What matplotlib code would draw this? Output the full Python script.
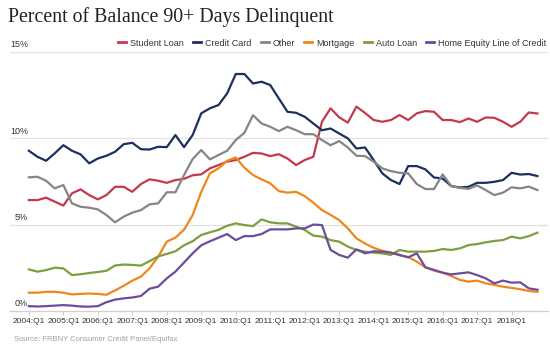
import matplotlib
matplotlib.use("Agg")
import matplotlib.pyplot as plt
from matplotlib.lines import Line2D

# Quarterly observations, 2004:Q1 through 2018:Q4
quarters = [f"{y}:Q{q}" for y in range(2004, 2019) for q in range(1, 5)]

student_loan = [6.42, 6.42, 6.56, 6.33, 6.10, 6.81, 7.04, 6.71, 6.46, 6.71,
                7.19, 7.19, 6.90, 7.35, 7.62, 7.54, 7.42, 7.58, 7.65, 7.86,
                7.91, 8.26, 8.45, 8.65, 8.74, 8.93, 9.16, 9.12, 8.97, 9.08,
                8.83, 8.45, 8.74, 8.93, 10.96, 11.74, 11.22, 10.91, 11.84, 11.47,
                11.06, 10.96, 11.06, 11.35, 11.06, 11.45, 11.58, 11.54, 11.06, 11.06,
                10.94, 11.15, 10.96, 11.21, 11.19, 10.96, 10.67, 10.96, 11.50, 11.44]

credit_card = [9.28, 8.93, 8.70, 9.13, 9.60, 9.28, 9.07, 8.55, 8.83, 8.99,
               9.22, 9.66, 9.74, 9.37, 9.35, 9.51, 9.49, 10.19, 9.49, 10.19,
               11.45, 11.74, 11.93, 12.60, 13.73, 13.73, 13.18, 13.28, 13.09, 12.31,
               11.54, 11.48, 11.25, 10.86, 10.47, 10.57, 10.28, 10.00, 9.41, 9.47,
               8.74, 7.97, 7.58, 7.35, 8.39, 8.39, 8.20, 7.73, 7.67, 7.23,
               7.15, 7.19, 7.42, 7.42, 7.48, 7.58, 8.00, 7.90, 7.93, 7.81]

other = [7.74, 7.77, 7.54, 7.10, 7.29, 6.23, 6.03, 5.98, 5.88, 5.55,
         5.13, 5.46, 5.69, 5.84, 6.17, 6.23, 6.87, 6.87, 7.87, 8.80,
         9.32, 8.78, 9.03, 9.28, 9.90, 10.32, 11.34, 10.86, 10.67, 10.42,
         10.67, 10.47, 10.24, 10.24, 9.90, 9.60, 9.84, 9.47, 8.99, 8.97,
         8.65, 8.26, 8.10, 8.00, 7.97, 7.35, 7.06, 7.06, 7.91, 7.23,
         7.13, 7.07, 7.27, 7.00, 6.71, 6.85, 7.16, 7.10, 7.20, 7.00]

mortgage = [1.05, 1.05, 1.10, 1.10, 1.05, 0.95, 0.98, 1.00, 0.98, 0.93,
            1.18, 1.45, 1.75, 1.98, 2.46, 3.14, 4.01, 4.24, 4.70, 5.55,
            6.90, 7.97, 8.26, 8.70, 8.89, 8.30, 7.87, 7.62, 7.39, 6.94,
            6.85, 6.90, 6.65, 6.27, 5.84, 5.56, 5.26, 4.78, 4.20, 3.90,
            3.65, 3.48, 3.38, 3.22, 3.12, 2.85, 2.52, 2.33, 2.21, 2.02,
            1.79, 1.69, 1.75, 1.59, 1.50, 1.40, 1.33, 1.25, 1.15, 1.10]

auto_loan = [2.40, 2.27, 2.36, 2.50, 2.46, 2.07, 2.12, 2.19, 2.25, 2.32,
             2.63, 2.68, 2.66, 2.62, 2.88, 3.15, 3.30, 3.45, 3.80, 4.03,
             4.40, 4.55, 4.69, 4.93, 5.07, 4.97, 4.91, 5.30, 5.13, 5.07,
             5.07, 4.88, 4.69, 4.36, 4.30, 4.10, 4.01, 3.72, 3.53, 3.43,
             3.37, 3.33, 3.24, 3.53, 3.43, 3.43, 3.43, 3.47, 3.58, 3.53,
             3.62, 3.81, 3.87, 3.97, 4.05, 4.10, 4.30, 4.20, 4.33, 4.53]

heloc = [0.27, 0.25, 0.27, 0.30, 0.33, 0.30, 0.25, 0.24, 0.27, 0.50,
         0.65, 0.72, 0.77, 0.86, 1.28, 1.40, 1.88, 2.27, 2.80, 3.33,
         3.80, 4.03, 4.24, 4.45, 4.10, 4.33, 4.33, 4.45, 4.72, 4.72,
         4.72, 4.78, 4.78, 5.00, 4.97, 3.53, 3.24, 3.08, 3.56, 3.33,
         3.45, 3.43, 3.37, 3.24, 3.10, 3.33, 2.52, 2.37, 2.21, 2.11,
         2.17, 2.23, 2.07, 1.88, 1.59, 1.75, 1.63, 1.65, 1.30, 1.22]

series_names = ["Student Loan", "Credit Card", "Other", "Mortgage", "Auto Loan",
                "Home Equity Line of Credit"]
series_values = [student_loan, credit_card, other, mortgage, auto_loan, heloc]
series_colors = ["#c23a4b", "#1c2f5f", "#858585", "#f0861c", "#7d9f3d", "#6b4d9b"]

y_ticks = [0, 5, 10, 15]
x_tick_idx = list(range(0, len(quarters), 4))
x_tick_labels = [quarters[i] for i in x_tick_idx]
x_tick_labels[-1] = x_tick_labels[-1].replace(":", "")

plt.rcParams["font.family"] = ["Liberation Sans", "DejaVu Sans"]

fig = plt.figure(figsize=(5.5, 3.48), dpi=100)
fig.patch.set_facecolor("white")
ax = fig.add_axes([0.018, 0.1069, 0.978, 0.7434])

x = list(range(len(quarters)))
for name, vals, col in zip(series_names, series_values, series_colors):
    ax.plot(x, vals, color=col, lw=1.6, solid_joinstyle="round", label=name)

ax.set_xlim(-2.2, 60.2)
ax.set_ylim(0, 15)

for v in y_ticks[1:]:
    ax.axhline(v, color="#e2e2e2", lw=0.9, zorder=0)
for v in y_ticks:
    ax.annotate(f"{v}%", xy=(-0.1, v), xycoords="data", xytext=(0, 2),
                textcoords="offset points", ha="right", va="bottom",
                fontsize=6.5, color="#333333", annotation_clip=False)

for s in ["left", "right", "top"]:
    ax.spines[s].set_visible(False)
ax.spines["bottom"].set_color("#cfcfcf")
ax.spines["bottom"].set_linewidth(0.9)
ax.set_yticks([])
ax.set_xticks(x_tick_idx)
ax.set_xticklabels(x_tick_labels)
ax.tick_params(axis="x", length=3, width=0.7, color="#cfcfcf", labelsize=6,
               labelcolor="#333333", pad=2)

handles = [Line2D([0], [0], color=c, lw=2) for c in series_colors]
fig.legend(handles, series_names, loc="center right", bbox_to_anchor=(0.993, 0.876),
           ncol=6, frameon=False, fontsize=6.5, handlelength=0.9,
           handletextpad=0.4, columnspacing=1.05, borderaxespad=0, borderpad=0,
           labelcolor="#333333")

fig.text(0.015, 0.951, "Percent of Balance 90+ Days Delinquent",
         family=["Liberation Serif", "DejaVu Serif"], fontsize=14.3,
         color="#222222", ha="left", va="center")
fig.text(0.025, 0.023, "Source: FRBNY Consumer Credit Panel/Equifax",
         fontsize=5.5, color="#a0a0a0", ha="left", va="center")

fig.savefig("out.png", dpi=100, facecolor="white")
